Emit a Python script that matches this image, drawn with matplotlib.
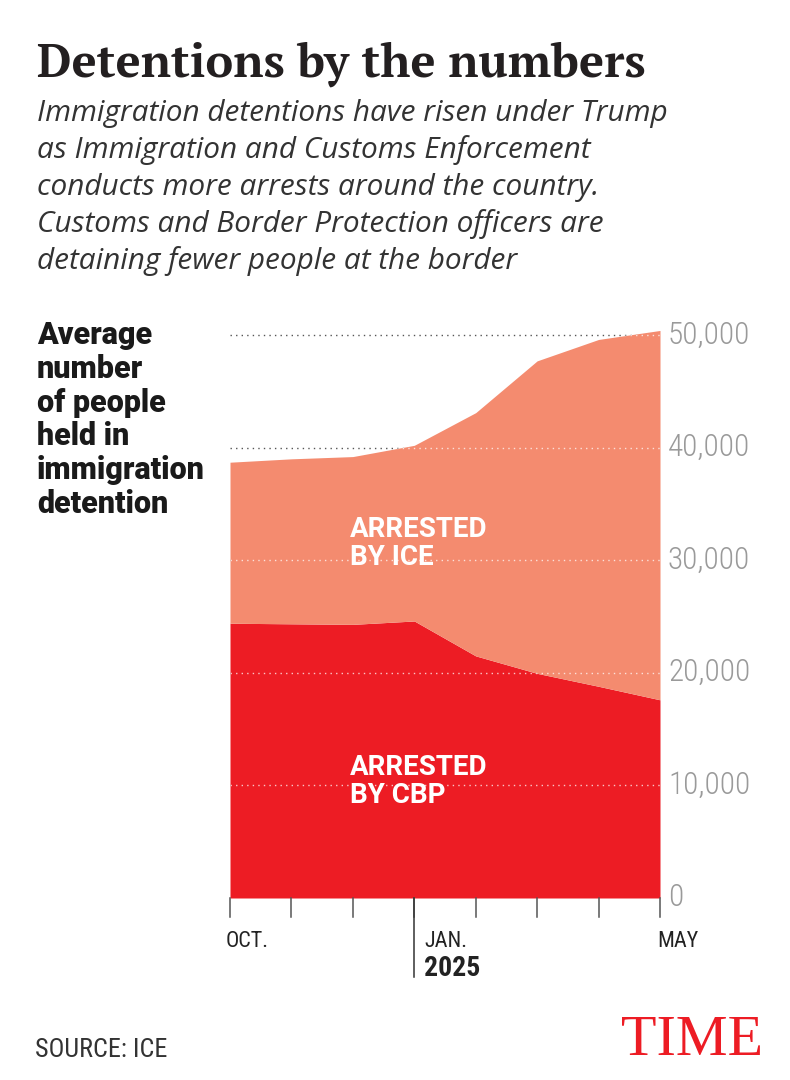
import numpy as np
import matplotlib
matplotlib.use("Agg")
import matplotlib.pyplot as plt
from matplotlib import font_manager as fm
from matplotlib.lines import Line2D

months = ["OCT.", "NOV.", "DEC.", "JAN.", "FEB.", "MAR.", "APR.", "MAY"]
total = [38700, 39000, 39200, 40200, 43100, 47700, 49600, 50400]
cbp = [24400, 24350, 24300, 24600, 21500, 19950, 18800, 17600]
ice = [t - c for t, c in zip(total, cbp)]
yticks = [0, 10000, 20000, 30000, 40000, 50000]
shown_months = {0: "OCT.", 3: "JAN.", 7: "MAY"}

RED = "#ED1C24"
SALMON = "#F48B6F"

W, H = 790, 1080
WEIGHTS = {"light": 300, "normal": 400, "bold": 700, "heavy": 900}
have = {}
for f in fm.fontManager.ttflist:
    w = f.weight if isinstance(f.weight, int) else WEIGHTS.get(f.weight, 400)
    have.setdefault((f.name, f.style), set()).add(w)


def fp(cands, weight="normal", style="normal"):
    want = WEIGHTS[weight]
    for name in cands:
        ws = have.get((name, style), set())
        if any(abs(w - want) <= 100 for w in ws):
            return fm.FontProperties(family=name, weight=weight, style=style)
    return fm.FontProperties(family="DejaVu Sans", weight=weight, style=style)


f_title = fp(["PT Serif", "Liberation Serif", "DejaVu Serif"], weight="bold")
f_sub = fp(["Libre Franklin", "Open Sans"], style="italic")
f_lab = fp(["Roboto", "Open Sans", "DejaVu Sans"], weight="heavy")
if f_lab.get_family()[0] == "DejaVu Sans":
    f_lab = fp(["Roboto", "Open Sans"], weight="bold")
f_area = fp(["Roboto", "Open Sans"], weight="bold")
f_tick = fp(["Roboto Condensed", "Barlow Condensed"], weight="light")
f_cond = fp(["Roboto Condensed", "Barlow Condensed"])
f_cond_b = fp(["Roboto Condensed", "Barlow Condensed"], weight="bold")
f_time = fp(["Liberation Serif"])

fig = plt.figure(figsize=(W / 100, H / 100), dpi=100)
renderer = fig.canvas.get_renderer()


def ptext(px, py, s, prop, size, color, ha="left", va="baseline"):
    return fig.text(px / W, 1 - py / H, s, fontproperties=prop, fontsize=size,
                    color=color, ha=ha, va=va)


def fit(texts, target_px):
    w = texts[0].get_window_extent(renderer).width
    for t in texts:
        t.set_fontsize(t.get_fontsize() * target_px / w)


ax = fig.add_axes([230 / W, 1 - 898 / H, 430 / W, 574.3 / H])
x = np.arange(len(months))

# dark dotted gridlines behind the areas
for v in yticks[1:]:
    ax.plot([0, 7], [v, v], color="#555555", lw=1.0, ls=(0, (1, 3)), zorder=0)

p_cbp = ax.fill_between(x, 0, cbp, color=RED, lw=0, zorder=1)
p_ice = ax.fill_between(x, cbp, total, color=SALMON, lw=0, zorder=1)

# light dotted gridlines shown only over the filled areas
for poly in (p_cbp, p_ice):
    for v in yticks[1:]:
        ln, = ax.plot([0, 7], [v, v], color="white", alpha=0.75, lw=1.0,
                      ls=(0, (1, 3)), zorder=2)
        ln.set_clip_path(poly.get_paths()[0], transform=ax.transData)

ax.set_xlim(0, 7)
ax.set_ylim(0, 51000)
for s in ax.spines.values():
    s.set_visible(False)
ax.set_xticks([])
ax.set_yticks([])

# right-hand value labels
ylabs = [ax.text(7.0 + 8 / 61.43, v, f"{v:,}", fontproperties=f_tick, fontsize=20,
                 color="#9a9a9a", va="center", ha="left") for v in yticks]
fit([ylabs[-1]] + ylabs[:-1], 82)

# x ticks
for i in x:
    ax.add_line(Line2D([i, i], [0, -1700], color="#555555", lw=1.1, clip_on=False))
ax.add_line(Line2D([3, 3], [0, -7000], color="#333333", lw=1.1, clip_on=False))
xl = {}
xl[0] = ptext(226, 947, "OCT.", f_cond, 18, "#222222")
xl[3] = ptext(424, 947, "JAN.", f_cond, 18, "#222222")
xl[7] = ptext(657, 947, "MAY", f_cond, 18, "#222222")
fit([xl[0], xl[3], xl[7]], 43)
yr = ptext(424, 976, "2025", f_cond_b, 19, "#222222")
fit([yr], 56)

# area labels
a1 = ptext(350, 537, "ARRESTED", f_area, 19, "white")
a2 = ptext(350, 565, "BY ICE", f_area, 19, "white")
a3 = ptext(350, 775, "ARRESTED", f_area, 19, "white")
a4 = ptext(350, 803, "BY CBP", f_area, 19, "white")
fit([a1, a2, a3, a4], 137)

# heading texts
title = ptext(37, 77, "Detentions by the numbers", f_title, 45, "#231f20")
fit([title], 608)

sub = ["Immigration detentions have risen under Trump",
       "as Immigration and Customs Enforcement",
       "conducts more arrests around the country.",
       "Customs and Border Protection officers are",
       "detaining fewer people at the border"]
subs = [ptext(37, 121 + 37 * k, line, f_sub, 19.5, "#333333") for k, line in enumerate(sub)]
fit(subs, 633)

lab = ["Average", "number", "of people", "held in", "immigration", "detention"]
labs = [ptext(37, 344 + 33.8 * k, line, f_lab, 20, "#1a1a1a") for k, line in enumerate(lab)]
fit([labs[4]] + labs[:4] + labs[5:], 168)

src = ptext(35, 1057, "SOURCE: ICE", f_cond, 19, "#333333")
fit([src], 132)
logo = ptext(621, 1055, "TIME", f_time, 42, RED)
fit([logo], 142)

fig.savefig("out.png", dpi=100, facecolor="white")
